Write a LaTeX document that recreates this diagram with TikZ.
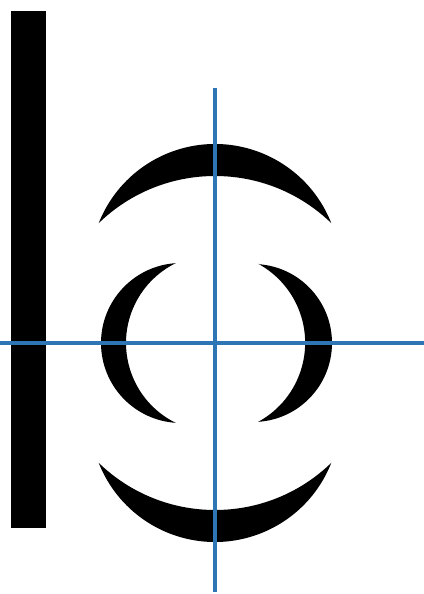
\documentclass[tikz,border=0pt]{standalone}
\definecolor{axisblue}{HTML}{2E75B6}
\definecolor{lensblack}{HTML}{000000}
% #1 = centre of the outer arc, #2 = its radius, #3/#4 = its start/end angle,
% #5 = radius of the inner arc round the centre, #6/#7 = its start/end angle
\newcommand{\crescent}[7]{
  \fill[lensblack] ([shift={(#1)}]#3:#2) arc[start angle=#3, end angle=#4, radius=#2]
    arc[start angle=#6, end angle=#7, radius=#5] -- cycle;
}

\begin{document}
\begin{tikzpicture}[x=0.75pt, y=0.75pt, line join=round]
  \useasboundingbox (0,0) rectangle (424,594);
  \coordinate (ctr) at (215,251);

  % ============ Bar on the left ============
  \fill[lensblack] (11,66) rectangle (46,583);

  % ============ Crescents ============
  % top and bottom: outer arc r=125, inner arc r=167 round the centre
  \crescent{215,325}{125}{21.53}{158.47}{167}{134.13}{45.87}
  \crescent{215,177}{125}{-21.53}{-158.47}{167}{-134.13}{-45.87}
  % left and right: outer arc r=80, inner arc r=89/90 round the centre
  \crescent{181,251}{80}{93.85}{266.15}{89}{243.74}{116.26}
  \crescent{253,251}{79}{86.2}{-86.2}{90}{-61.4}{61.4}

  % ============ Axes ============
  \coordinate (axl) at (0,251);
  \coordinate (axr) at (424,251);
  \coordinate (axt) at (215,506);
  \coordinate (axb) at (215,2);
  \draw[axisblue, line width=2.3pt] (axl) -- (axr);
  \draw[axisblue, line width=2.3pt] (axt) -- (axb);
\end{tikzpicture}
\end{document}
